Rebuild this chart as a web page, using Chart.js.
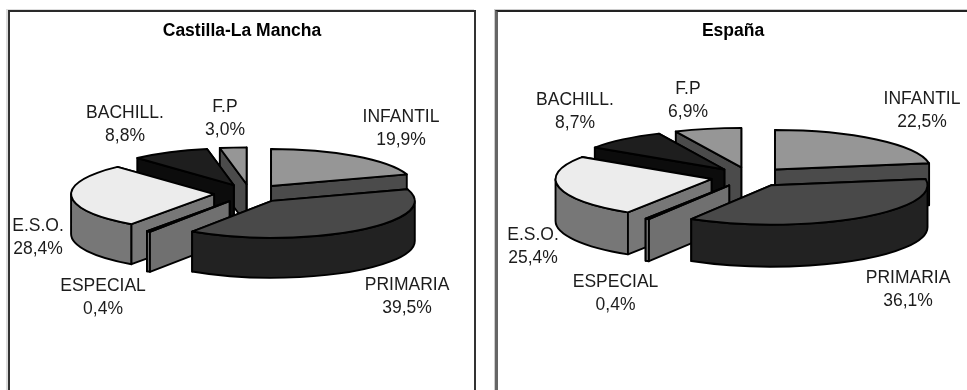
<!DOCTYPE html>
<html><head><meta charset="utf-8">
<script src="https://cdn.jsdelivr.net/npm/chart.js@4/dist/chart.umd.js"></script>
<style>
html,body{margin:0;padding:0;background:#fff;overflow:hidden;width:967px;height:390px}
canvas{position:absolute;top:0}
.panel{position:absolute;top:10px;height:390px;box-sizing:border-box}
#p1{left:8px;width:468px;border:2px solid #333;border-top-color:#2a2a2a;box-shadow:-2px -1px 0 #ddd}
#p2{left:495px;width:480px;border-top:2px solid #222;border-left:3px solid #666;box-shadow:-1px -1px 0 #ccc}
</style></head><body>
<div class="panel" id="p1"></div><div class="panel" id="p2"></div>
<canvas id="c1" width="500" height="390" style="left:0"></canvas>
<canvas id="c2" width="472" height="390" style="left:495px"></canvas>
<script>
const categories = ['INFANTIL','PRIMARIA','ESPECIAL','E.S.O.','BACHILL.','F.P'];
const castillaValues = [19.9,39.5,0.4,28.4,8.8,3.0];
const espanaValues = [22.5,36.1,0.4,25.4,8.7,6.9];
const topColors = ['#969696','#494949','#e0e0e0','#ececec','#1e1e1e','#969696'];
const wallColors = ['#4b4b4b','#222222','#707070','#777777','#0c0c0c','#4b4b4b'];
const paintOrder = [0,5,4,3,2,1];

const pie3d = {
  id:'pie3d',
  beforeDatasetDraw(chart){
    const o = chart.options.plugins.pie3d, ctx = chart.ctx;
    const arcs = chart.getDatasetMeta(0).data;
    const k = o.squash, d = o.depth;
    ctx.save();
    ctx.lineJoin='round'; ctx.strokeStyle='#000'; ctx.lineWidth=1.9;
    for(const i of paintOrder){
      const a = arcs[i], a0=a.startAngle, a1=a.endAngle, R=a.outerRadius;
      const mid=(a0+a1)/2, shift=a.options.offset/4;
      const cx=a.x+Math.cos(mid)*shift, cy=a.y+Math.sin(mid)*shift*k;
      const pt=t=>[cx+R*Math.cos(t),cy+R*k*Math.sin(t)];
      const radial=t=>{const p=pt(t);ctx.beginPath();ctx.moveTo(cx,cy);ctx.lineTo(p[0],p[1]);ctx.lineTo(p[0],p[1]+d);ctx.lineTo(cx,cy+d);ctx.closePath();ctx.fillStyle=wallColors[i];ctx.fill();ctx.stroke();};
      const startVisible=Math.cos(a0)<0, endVisible=Math.cos(a1)>0;
      if(!startVisible) radial(a0);
      if(!endVisible) radial(a1);
      const v0=Math.max(a0,0), v1=Math.min(a1,Math.PI);
      if(v1>v0){
        ctx.beginPath();
        ctx.ellipse(cx,cy,R,R*k,0,v0,v1);
        ctx.ellipse(cx,cy+d,R,R*k,0,v1,v0,true);
        ctx.closePath();ctx.fillStyle=wallColors[i];ctx.fill();ctx.stroke();
      }
      if(startVisible) radial(a0);
      if(endVisible) radial(a1);
      ctx.beginPath();ctx.moveTo(cx,cy);ctx.ellipse(cx,cy,R,R*k,0,a0,a1);ctx.closePath();
      ctx.fillStyle=topColors[i];ctx.fill();ctx.stroke();
    }
    ctx.restore();
    return false;
  },
  afterDraw(chart){
    const o = chart.options.plugins.pie3d, ctx = chart.ctx;
    const vals = chart.data.datasets[0].data;
    ctx.save();
    ctx.textAlign='center';ctx.textBaseline='middle';
    ctx.fillStyle='#000';ctx.font='bold 17.5px "Liberation Sans",Arial,sans-serif';
    ctx.fillText(o.title,o.titleX,31);
    ctx.fillStyle='#1c1c1c';ctx.font='17.5px "Liberation Sans",Arial,sans-serif';
    chart.data.labels.forEach((l,i)=>{
      const p=o.anchors[i];
      ctx.fillText(l,p[0],p[1]);
      ctx.fillText(vals[i].toFixed(1).replace('.',',')+'%',p[0],p[1]+23.5);
    });
    ctx.restore();
  }
};

function build(id,values,title,cfg){
  return new Chart(document.getElementById(id),{
    type:'pie',
    data:{labels:categories,datasets:[{data:values,backgroundColor:topColors,borderWidth:0,offset:cfg.explode*4}]},
    plugins:[pie3d],
    options:{
      responsive:false,animation:false,events:[],radius:cfg.radius,
      layout:{padding:cfg.padding},
      plugins:{legend:{display:false},tooltip:{enabled:false},
        pie3d:{title,titleX:cfg.titleX,squash:cfg.squash,depth:cfg.depth,anchors:cfg.anchors}}
    }
  });
}
build('c1',castillaValues,'Castilla-La Mancha',{radius:143,explode:36,squash:0.258,depth:40,
  padding:{left:0,right:0,top:0,bottom:3},titleX:242,
  anchors:[[401,117],[407,285],[103,286],[38,226],[125,113],[225,107]]});
build('c2',espanaValues,'España',{radius:156,explode:39,squash:0.253,depth:42,
  padding:{left:37.4,right:0,top:0,bottom:36},titleX:238,
  anchors:[[427,99],[413,278],[120.5,282],[38,235],[80,100],[193,89]]});
</script>
</body></html>
